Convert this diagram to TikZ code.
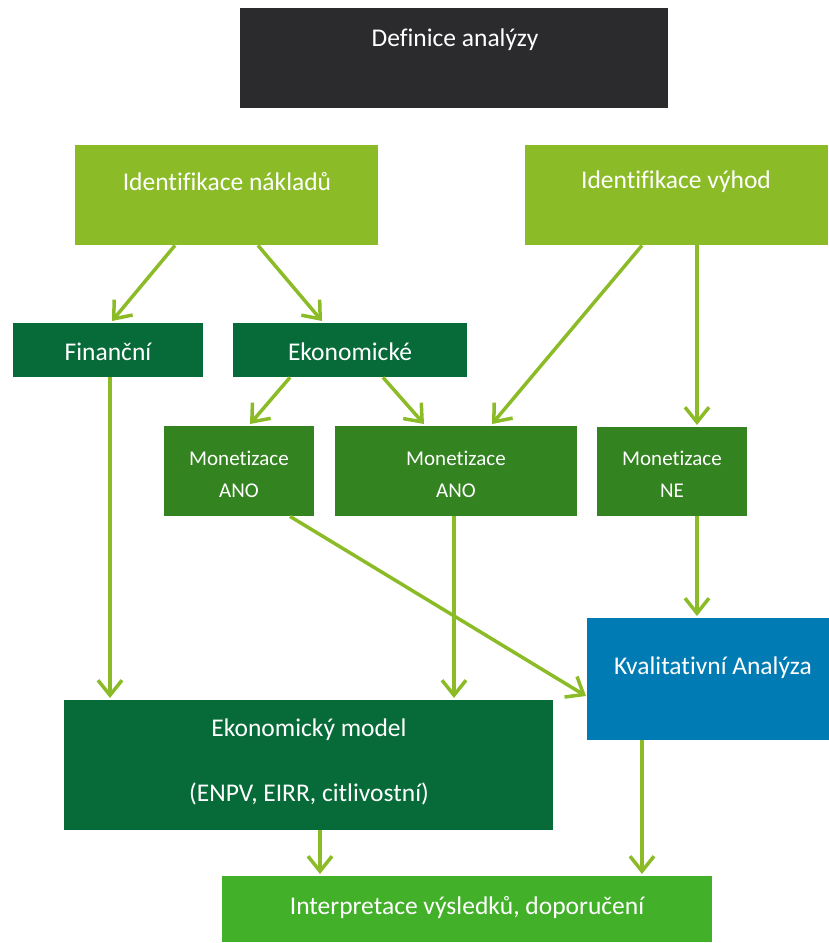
\documentclass[tikz,border=0pt]{standalone}
\usepackage{fontspec}
\setmainfont[Ligatures=NoCommon]{Carlito}
\usetikzlibrary{arrows.meta,calc}
\definecolor{cdark}{HTML}{2B2B2D}
\definecolor{clime}{HTML}{8BBC28}
\definecolor{cdgreen}{HTML}{066B38}
\definecolor{cmgreen}{HTML}{338320}
\definecolor{cblue}{HTML}{007BB3}
\definecolor{cbgreen}{HTML}{43B02A}
\tikzset{
  box/.style n args={3}{draw=none, fill=#1, anchor=north west, inner sep=0pt, minimum width=#2, minimum height=#3},
  txt/.style={text=white, font=\fontsize{25.5}{32.5}\selectfont, align=center, inner sep=0pt},
  stxt/.style={text=white, font=\fontsize{21}{32}\selectfont, align=center, inner sep=0pt},
  arr/.style={draw=clime, line width=3.5pt, -{Straight Barb[length=15pt,width=24pt,line width=3.5pt]}},
}
\begin{document}
\begin{tikzpicture}[x=1pt,y=-1pt]
\useasboundingbox (0,0) rectangle (829,943);
% boxes
\node[box={cdark}{428pt}{100pt}] (def) at (240,8) {};
\node[box={clime}{303pt}{100pt}] (nakl) at (75,145) {};
\node[box={clime}{303pt}{100pt}] (vyh) at (525,145) {};
\node[box={cdgreen}{190pt}{54pt}] (fin) at (13,323) {};
\node[box={cdgreen}{234pt}{54pt}] (eko) at (233,323) {};
\node[box={cmgreen}{150pt}{90pt}] (mon1) at (164,426) {};
\node[box={cmgreen}{242pt}{90pt}] (mon2) at (335,426) {};
\node[box={cmgreen}{150pt}{89pt}] (mon3) at (597,427) {};
\node[box={cblue}{242pt}{122pt}] (kval) at (587,618) {};
\node[box={cdgreen}{489pt}{130pt}] (em) at (64,700) {};
\node[box={cbgreen}{490pt}{66pt}] (int) at (222,876) {};
% texts
\node[txt] (defT) at (455,40) {Definice analýzy};
\node[txt] (naklT) at (227,182) {Identifikace nákladů};
\node[txt] (vyhT) at (676,182) {Identifikace výhod};
\node[txt] (finT) at (108,352) {Finanční};
\node[txt] (ekoT) at (350,352) {Ekonomické};
\node[stxt] (mon1T) at (239,474) {Monetizace\\ANO};
\node[stxt] (mon2T) at (456,474) {Monetizace\\ANO};
\node[stxt] (mon3T) at (672,474) {Monetizace\\NE};
\node[txt] (kvalT) at (713,668) {Kvalitativní Analýza};
\node[txt] (emT) at (309,762) {Ekonomický model\\[0pt]\\(ENPV, EIRR, citlivostní)};
\node[txt] (intT) at (467,908) {Interpretace výsledků, doporučení};
% connectors
\draw[arr] ($(nakl.south west)+(100,0)$) -- ($(fin.north west)+(99,-2)$);
\draw[arr] ($(nakl.south west)+(183,0)$) -- ($(eko.north west)+(89,-2)$);
\draw[arr] ($(eko.south west)+(57,0)$) -- ($(mon1.north west)+(86,-2)$);
\draw[arr] ($(eko.south west)+(150,0)$) -- ($(mon2.north west)+(89,-2)$);
\draw[arr] ($(vyh.south west)+(117,0)$) -- ($(mon2.north west)+(157,-2)$);
\draw[arr] ($(vyh.south west)+(172,0)$) -- ($(mon3.north west)+(100,-2)$);
\draw[arr] ($(fin.south west)+(97,0)$) -- ($(em.north west)+(46,-2)$);
\draw[arr] ($(mon1.south west)+(126,0)$) -- ($(kval.north west)+(-1,78)$);
\draw[arr] ($(mon2.south west)+(119,0)$) -- ($(em.north west)+(390,-2)$);
\draw[arr] ($(mon3.south west)+(100,0)$) -- ($(kval.north west)+(110,-2)$);
\draw[arr] ($(em.south west)+(256,0)$) -- ($(int.north west)+(98,-2)$);
\draw[arr] ($(kval.south west)+(55,0)$) -- ($(int.north west)+(420,-2)$);
\end{tikzpicture}
\end{document}
